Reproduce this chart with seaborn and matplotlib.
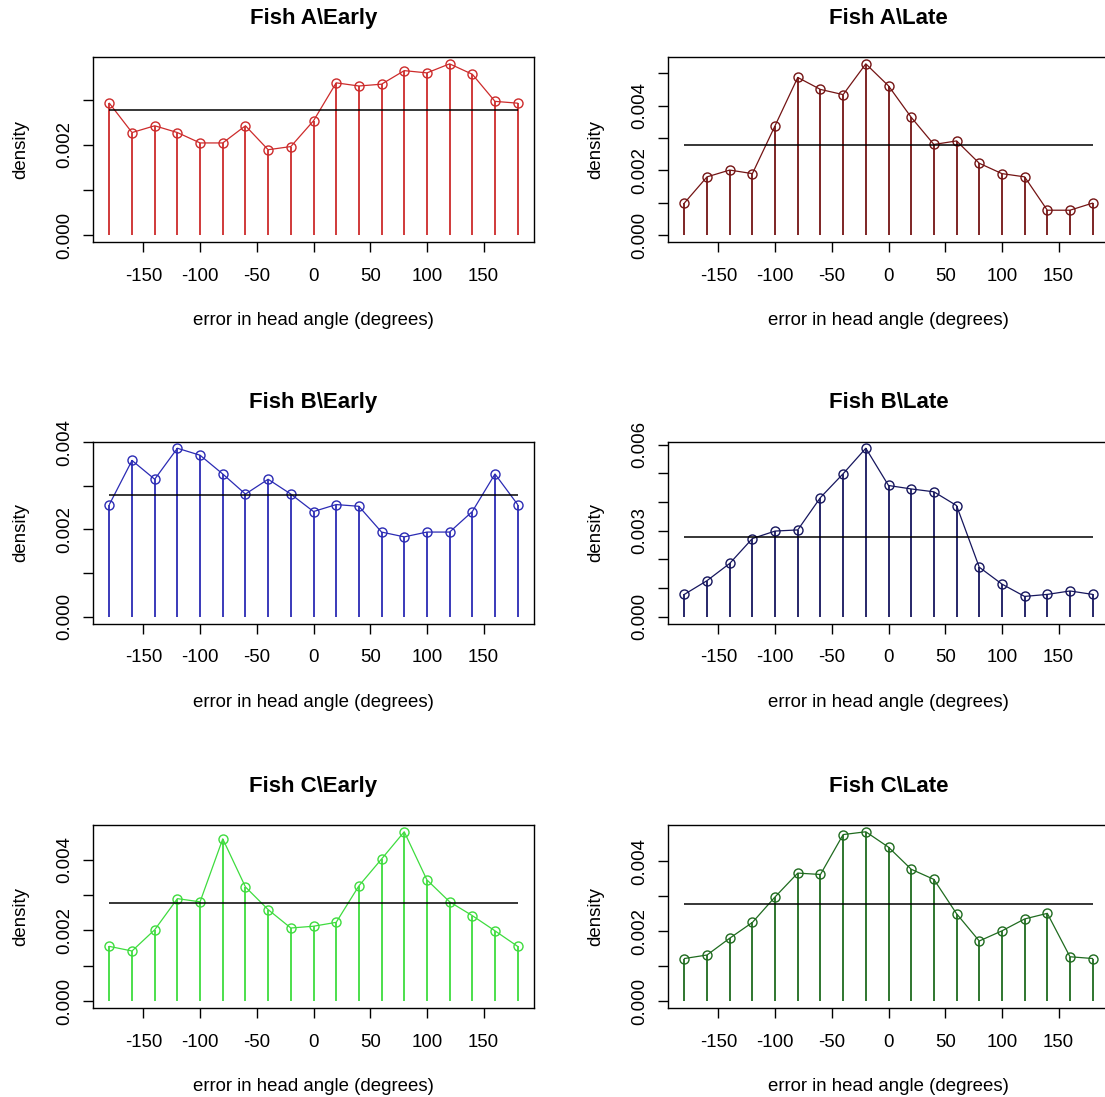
import numpy as np
import pandas as pd
import matplotlib
matplotlib.use("Agg")
import matplotlib.pyplot as plt
import seaborn as sns

sns.set_style("white")
plt.rcParams['font.family'] = ['Liberation Sans', 'DejaVu Sans']
plt.rcParams['text.color'] = 'black'
plt.rcParams['axes.labelcolor'] = 'black'

# ---- data ----
angles = list(range(-180, 181, 20))
uniform_density = 1 / 360

fishA_early = [2.92, 2.27, 2.42, 2.27, 2.04, 2.04, 2.42, 1.89, 1.96, 2.53,
               3.37, 3.30, 3.34, 3.64, 3.59, 3.79, 3.56, 2.96, 2.92]
fishA_late = [0.99, 1.80, 2.01, 1.90, 3.38, 4.87, 4.50, 4.34, 5.29, 4.61,
              3.64, 2.80, 2.91, 2.22, 1.90, 1.80, 0.77, 0.77, 0.99]
fishB_early = [2.57, 3.58, 3.15, 3.86, 3.70, 3.27, 2.81, 3.15, 2.81, 2.41,
               2.57, 2.53, 1.94, 1.83, 1.94, 1.94, 2.41, 3.27, 2.57]
fishB_late = [0.78, 1.26, 1.86, 2.73, 2.99, 3.03, 4.16, 4.99, 5.88, 4.58,
              4.46, 4.36, 3.88, 1.73, 1.14, 0.71, 0.78, 0.90, 0.78]
fishC_early = [1.55, 1.42, 2.02, 2.90, 2.81, 4.59, 3.23, 2.59, 2.07, 2.12,
               2.23, 3.26, 4.02, 4.79, 3.43, 2.81, 2.42, 1.99, 1.55]
fishC_late = [1.22, 1.32, 1.80, 2.25, 2.98, 3.66, 3.62, 4.76, 4.84, 4.40,
              3.77, 3.48, 2.50, 1.72, 2.01, 2.35, 2.51, 1.27, 1.22]

titles = ["Fish A\\Early", "Fish A\\Late", "Fish B\\Early",
          "Fish B\\Late", "Fish C\\Early", "Fish C\\Late"]
series = [fishA_early, fishA_late, fishB_early, fishB_late, fishC_early, fishC_late]
colors = ["#CD2B2B", "#741414", "#2B2BB4", "#16165E", "#3EDC3E", "#1F6B1F"]
ytick_vals = [[0, 1, 2, 3], [0, 1, 2, 3, 4, 5], [0, 1, 2, 3, 4],
              [0, 1, 2, 3, 4, 5, 6], [0, 1, 2, 3, 4], [0, 1, 2, 3, 4]]
ytick_shown = [[0, 2], [0, 2, 4], [0, 2, 4], [0, 3, 6], [0, 2, 4], [0, 2, 4]]
xticks = [-150, -100, -50, 0, 50, 100, 150]

W, H = 1105, 1097
fig = plt.figure(figsize=(W / 100, H / 100), dpi=100)

col_x = [93, 668]
ax_w = 441
rows = [(57, 242), (441.5, 623.5), (825, 1008)]
FS = 13.4

for i in range(6):
    r, c = divmod(i, 2)
    top, bot = rows[r]
    ax = fig.add_axes([col_x[c] / W, 1 - bot / H, ax_w / W, (bot - top) / H])
    vals = np.array(series[i]) * 1e-3
    df = pd.DataFrame({"angle": angles, "density": vals})
    col = colors[i]
    ax.vlines(df["angle"], 0, df["density"], color=col, lw=1.3, zorder=2)
    sns.lineplot(data=df, x="angle", y="density", ax=ax, color=col, lw=0.9,
                 marker="o", markersize=6.5, markerfacecolor="none",
                 markeredgecolor=col, markeredgewidth=1.0, zorder=3)
    ax.hlines(uniform_density, min(angles), max(angles), color="black", lw=1.1, zorder=4)
    ax.set_xlim(-180 - 14.4, 180 + 14.4)
    ymax = vals.max()
    ax.set_ylim(-0.04 * ymax, ymax * 1.04)
    ax.set_xticks(xticks)
    ax.set_xticklabels([str(v) for v in xticks])
    yt = [v * 1e-3 for v in ytick_vals[i]]
    ax.set_yticks(yt)
    ax.set_yticklabels([f"{v * 1e-3:.3f}" if v in ytick_shown[i] else ""
                        for v in ytick_vals[i]])
    ax.tick_params(axis="both", which="major", bottom=True, left=True,
                   direction="out", length=7.5, width=1,
                   color="black", labelsize=FS, labelcolor="black")
    ax.tick_params(axis="x", pad=11)
    ax.tick_params(axis="y", labelrotation=90, pad=7)
    for lab in ax.get_yticklabels():
        lab.set_va("center")
    for s in ax.spines.values():
        s.set_visible(True)
        s.set_color("black")
        s.set_linewidth(1.0)
    ax.set_xlabel("error in head angle (degrees)", fontsize=FS, labelpad=20)
    ax.set_ylabel("density", fontsize=FS, labelpad=19)
    ax.set_title(titles[i], fontsize=16.0, fontweight="bold", pad=24)

fig.savefig("out.png", dpi=100)
